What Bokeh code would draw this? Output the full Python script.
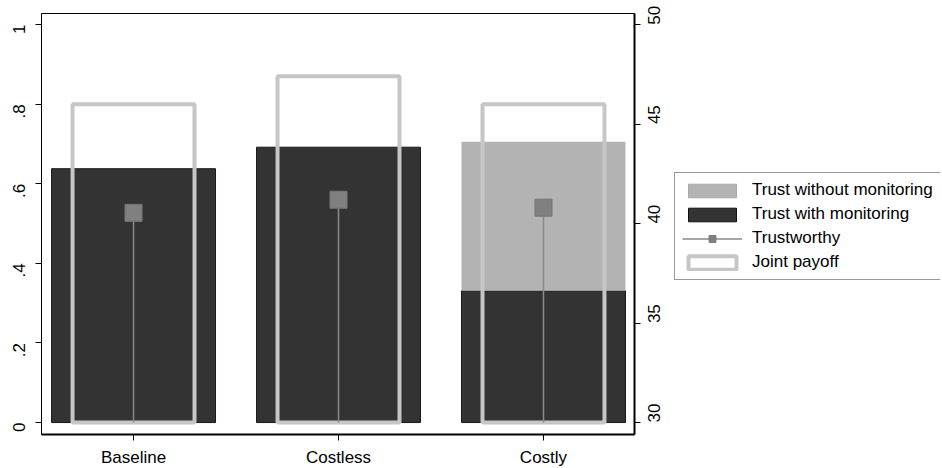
import numpy as np
from bokeh.plotting import figure
from bokeh.layouts import row
from bokeh.models import (ColumnDataSource, Range1d, LinearAxis, FixedTicker,
                          Legend, LegendItem)
from bokeh.embed import file_html
from bokeh.resources import INLINE

# ---- data ----
categories = ["Baseline", "Costless", "Costly"]
positions = [1, 2, 3]
trust_with_monitoring = [0.638, 0.692, 0.331]
trust_without_monitoring = [0.0, 0.0, 0.375]
trustworthy = [0.527, 0.560, 0.540]
joint_payoff = [46.0, 47.4, 46.0]
left_ticks = [0, 0.2, 0.4, 0.6, 0.8, 1]
left_tick_labels = ["0", ".2", ".4", ".6", ".8", "1"]
right_ticks = [30, 35, 40, 45, 50]
legend_labels = ["Trust without monitoring", "Trust with monitoring",
                 "Trustworthy", "Joint payoff"]

FONT = "Liberation Sans"
DARK = "#333333"
LIGHT = "#b3b3b3"
OUTLINE = "#c6c6c6"
MARK = "#808080"
STEM = "#8a8a8a"

with_arr = np.array(trust_with_monitoring)
without_arr = np.array(trust_without_monitoring)

src = ColumnDataSource(dict(
    x=positions,
    cat=categories,
    with_top=with_arr,
    stack_bottom=with_arr,
    stack_top=with_arr + without_arr,
    tw=trustworthy,
    zero=[0] * len(positions),
    payoff=joint_payoff,
    payoff_base=[30] * len(positions),
))

TOP = 13
FRAME_H = 421
BOTTOM = 32
H = TOP + FRAME_H + BOTTOM
LEFT = 41
FRAME_W = 593
RIGHT = 36
y_lo, y_hi = -0.03, 1.028
p = figure(frame_width=FRAME_W, frame_height=FRAME_H, output_backend="svg",
           toolbar_location=None,
           x_range=Range1d(0.551, 3.444), y_range=Range1d(y_lo, y_hi),
           min_border_left=LEFT, min_border_top=TOP, min_border_bottom=BOTTOM,
           min_border_right=RIGHT)
p.extra_y_ranges = {"payoff": Range1d(30 + 20 * y_lo, 30 + 20 * y_hi)}

p.xgrid.visible = False
p.ygrid.visible = False
p.outline_line_color = "black"
p.outline_line_width = 1
p.background_fill_color = "white"
p.border_fill_color = "white"

# left axis
ya = p.yaxis[0]
ya.ticker = FixedTicker(ticks=left_ticks)
ya.major_label_overrides = {t: l for t, l in zip(left_ticks, left_tick_labels)}
ya.major_label_orientation = np.pi / 2
ya.major_tick_out = 6
ya.major_tick_in = 0
ya.minor_tick_out = 0
ya.minor_tick_in = 0
ya.major_label_standoff = 16
ya.major_label_text_font = FONT
ya.major_label_text_font_size = "17px"
ya.major_label_text_color = "black"
ya.axis_line_color = "black"

# bottom axis
xa = p.xaxis[0]
xa.ticker = FixedTicker(ticks=positions)
xa.major_label_overrides = {x: c for x, c in zip(positions, categories)}
xa.major_tick_out = 6
xa.major_tick_in = 0
xa.minor_tick_out = 0
xa.minor_tick_in = 0
xa.major_label_standoff = 7
xa.major_label_text_font = FONT
xa.major_label_text_font_size = "17px"
xa.major_label_text_color = "black"
xa.axis_line_width = 2
xa.axis_line_color = "black"

# right axis
ra = LinearAxis(y_range_name="payoff", ticker=FixedTicker(ticks=right_ticks))
ra.major_label_orientation = np.pi / 2
ra.major_tick_out = 6
ra.major_tick_in = 0
ra.minor_tick_out = 0
ra.minor_tick_in = 0
ra.major_label_standoff = 14
ra.major_label_text_font = FONT
ra.major_label_text_font_size = "17px"
ra.major_label_text_color = "black"
ra.axis_line_width = 2
ra.axis_line_color = "black"
p.add_layout(ra, "right")

# bars
p.vbar(x="x", width=0.8, bottom=0, top="with_top", source=src,
       fill_color=DARK, line_color="#1a1a1a", line_width=1)
p.vbar(x="x", width=0.8, bottom="stack_bottom", top="stack_top",
       source=src, fill_color=LIGHT, line_color=None)

# joint payoff outlines
p.vbar(x="x", width=0.595, bottom="payoff_base", top="payoff",
       y_range_name="payoff", source=src, fill_color=None,
       line_color=OUTLINE, line_width=4)

# trustworthy stems + markers
p.segment(x0="x", y0="zero", x1="x", y1="tw", source=src,
          line_color=STEM, line_width=1.5)
p.scatter(x="x", y="tw", source=src, marker="square", size=17,
          fill_color=MARK, line_color="#767676", line_width=1)

# ---- legend panel (second figure, legend only) ----
LW = 940 - (LEFT + FRAME_W + RIGHT)
q = figure(width=LW, height=H, output_backend="svg", toolbar_location=None,
           x_range=Range1d(0, 1), y_range=Range1d(0, 1),
           x_axis_type=None, y_axis_type=None,
           min_border_left=0, min_border_right=0, min_border_top=0,
           min_border_bottom=0)
q.xgrid.visible = False
q.ygrid.visible = False
q.outline_line_color = None
q.background_fill_color = "white"
q.border_fill_color = "white"

# legend-only keys: one NaN row each, so nothing is drawn in the panel itself
nan = float("nan")
key = ColumnDataSource(dict(x=[nan], y=[nan], top=[nan], x1=[nan], y1=[nan]))
k_light = q.vbar(x="x", bottom="y", top="top", width=0.1, source=key,
                 fill_color=LIGHT, line_color="#a9a9a9")
k_dark = q.vbar(x="x", bottom="y", top="top", width=0.1, source=key,
                fill_color=DARK, line_color="#111111")
k_stem = q.segment(x0="x", y0="y", x1="x1", y1="y1", source=key,
                   line_color=STEM, line_width=1.5)
k_mark = q.scatter(x="x", y="y", source=key, marker="square", size=17,
                   fill_color=MARK, line_color="#767676")
k_pay = q.vbar(x="x", bottom="y", top="top", width=0.1, source=key,
               fill_color="white", line_color=OUTLINE, line_width=4)

legend = Legend(items=[
    LegendItem(label=legend_labels[0], renderers=[k_light]),
    LegendItem(label=legend_labels[1], renderers=[k_dark]),
    LegendItem(label=legend_labels[2], renderers=[k_stem, k_mark]),
    LegendItem(label=legend_labels[3], renderers=[k_pay]),
])
legend.location = (674 - (LEFT + FRAME_W + RIGHT), 151)
legend.margin = 0
legend.padding = 7
legend.spacing = 4
legend.glyph_width = 60
legend.glyph_height = 17
legend.label_height = 17
legend.label_standoff = 10
legend.label_text_font = FONT
legend.label_text_font_size = "17px"
legend.label_text_color = "black"
legend.border_line_color = "#333333"
legend.border_line_width = 1
legend.background_fill_color = "white"
legend.background_fill_alpha = 1
q.add_layout(legend, "center")

layout = row(p, q, spacing=0)
open("out.html", "w").write(file_html(layout, INLINE))
